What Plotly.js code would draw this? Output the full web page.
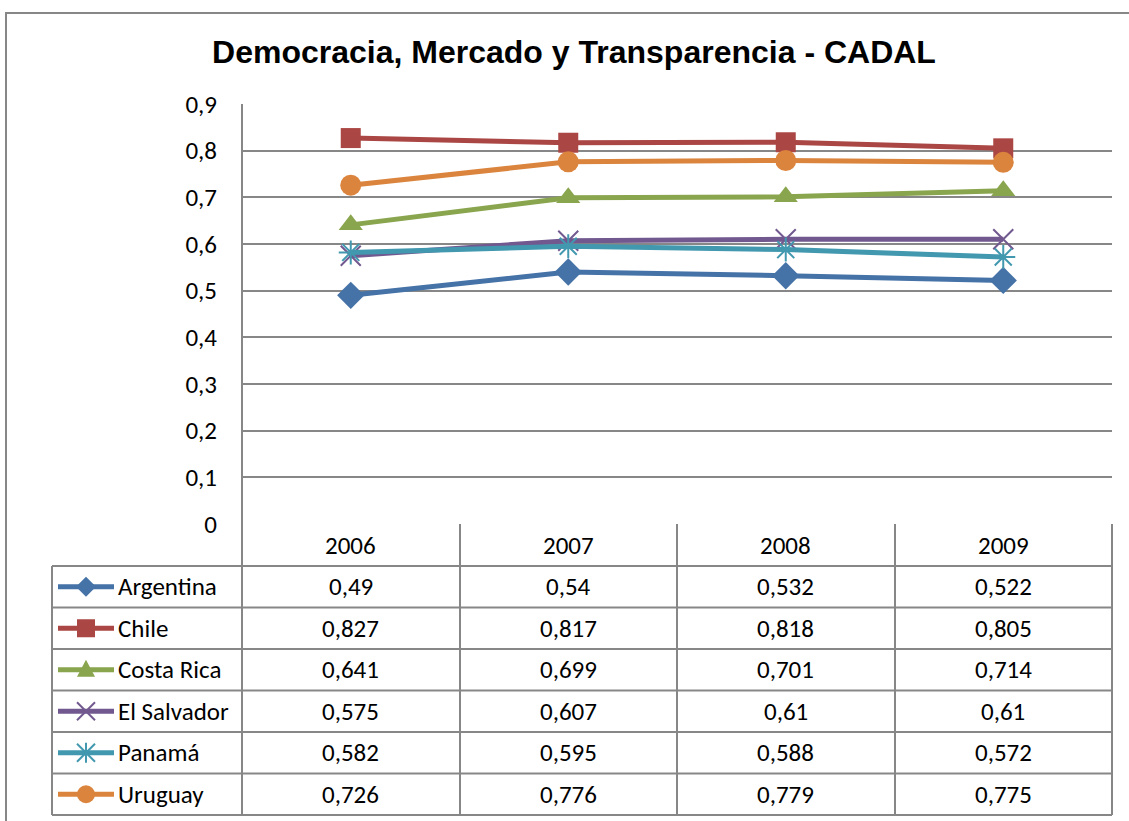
<!DOCTYPE html>
<html>
<head>
<meta charset="utf-8">
<script src="https://cdn.plot.ly/plotly-3.0.1.min.js"></script>
<style>
html,body{margin:0;padding:0;background:#fff;}
#chart{width:1129px;height:821px;}
</style>
</head>
<body>
<div id="chart"></div>
<script>
// ---- data ----
var years = [2006, 2007, 2008, 2009];
var countries = ['Argentina', 'Chile', 'Costa Rica', 'El Salvador', 'Panamá', 'Uruguay'];
var argentina = [0.49, 0.54, 0.532, 0.522];
var chile = [0.827, 0.817, 0.818, 0.805];
var costaRica = [0.641, 0.699, 0.701, 0.714];
var elSalvador = [0.575, 0.607, 0.61, 0.61];
var panama = [0.582, 0.595, 0.588, 0.572];
var uruguay = [0.726, 0.776, 0.779, 0.775];
var yTickVals = [0, 0.1, 0.2, 0.3, 0.4, 0.5, 0.6, 0.7, 0.8, 0.9];
var yTickText = ['0', '0,1', '0,2', '0,3', '0,4', '0,5', '0,6', '0,7', '0,8', '0,9'];
var chartTitle = 'Democracia, Mercado y Transparencia - CADAL';

// ---- styles ----
var seriesValues = [argentina, chile, costaRica, elSalvador, panama, uruguay];
var colors = ['#4572A7', '#AA4643', '#89A54E', '#71588F', '#4198AF', '#DB843D'];
var symbols = ['diamond', 'square', 'triangle-up', 'x-thin-open', 'asterisk-open', 'circle'];
var sizes = [21, 20, 21, 20, 20, 21];

var W = 1129, H = 821;
function px(x) { return x / W; }
function py(y) { return 1 - y / H; }

var plotL = 242, plotR = 1112, plotT = 104, plotB = 524;
var xMin = years[0] - 0.5, xMax = years[years.length - 1] + 0.5;
var yMin = 0, yMax = 0.9;

var tableL = 52;
var colX = [242, 460, 677, 895, 1112];
var headerB = 566;
var rowH = (815 - 566) / 6;
var gridColor = '#878787';
var textFont = 'Carlito, Lato, sans-serif';
var fs = 25;

var traces = [];
var shapes = [];
var annotations = [];

// build an SVG path (paper coords) from pixel points
function pathFrom(pts, closed) {
  return pts.map(function (p, k) {
    return (k === 0 ? 'M' : 'L') + px(p[0]).toFixed(5) + ',' + py(p[1]).toFixed(5);
  }).join(' ') + (closed ? ' Z' : '');
}
function legendIcon(sym, cx, cy, col) {
  var out = [];
  out.push({ type: 'line', xref: 'paper', yref: 'paper', x0: px(58), x1: px(114), y0: py(cy), y1: py(cy),
    line: { color: col, width: 5 } });
  var fill = { type: 'path', xref: 'paper', yref: 'paper', fillcolor: col, line: { color: col, width: 0 } };
  if (sym === 'diamond') {
    fill.path = pathFrom([[cx, cy - 10], [cx + 10, cy], [cx, cy + 10], [cx - 10, cy]], true); out.push(fill);
  } else if (sym === 'square') {
    fill.path = pathFrom([[cx - 9, cy - 9], [cx + 9, cy - 9], [cx + 9, cy + 9], [cx - 9, cy + 9]], true); out.push(fill);
  } else if (sym === 'triangle-up') {
    fill.path = pathFrom([[cx, cy - 10], [cx + 9, cy + 7], [cx - 9, cy + 7]], true); out.push(fill);
  } else if (sym === 'circle') {
    out.push({ type: 'circle', xref: 'paper', yref: 'paper', x0: px(cx - 9), x1: px(cx + 9), y0: py(cy - 9), y1: py(cy + 9),
      fillcolor: col, line: { color: col, width: 0 } });
  } else {
    var segs = [[[cx - 9, cy - 9], [cx + 9, cy + 9]], [[cx - 9, cy + 9], [cx + 9, cy - 9]]];
    if (sym === 'asterisk-open') segs.push([[cx, cy - 10], [cx, cy + 10]]);
    segs.forEach(function (s) {
      out.push({ type: 'path', xref: 'paper', yref: 'paper', path: pathFrom(s, false), line: { color: col, width: 2 } });
    });
  }
  return out;
}

seriesValues.forEach(function (vals, i) {
  var isLine = symbols[i].indexOf('open') >= 0;
  traces.push({
    type: 'scatter', mode: 'lines+markers',
    x: years, y: vals, name: countries[i],
    line: { color: colors[i], width: 5 },
    marker: {
      symbol: symbols[i], size: sizes[i], color: colors[i],
      line: { color: colors[i], width: isLine ? 2 : 0 }
    },
    showlegend: false
  });
  var cy = headerB + rowH * (i + 0.5);
  shapes = shapes.concat(legendIcon(symbols[i], 86, cy, colors[i]));
  annotations.push({ xref: 'paper', yref: 'paper', x: px(116), y: py(cy), xanchor: 'left', yanchor: 'middle',
    text: countries[i], showarrow: false, font: { family: textFont, size: fs, color: '#000' } });
  vals.forEach(function (v, j) {
    annotations.push({ xref: 'x', yref: 'paper', x: years[j], y: py(cy), xanchor: 'center', yanchor: 'middle',
      text: String(v).replace('.', ','), showarrow: false, font: { family: textFont, size: fs, color: '#000' } });
  });
});

years.forEach(function (yr) {
  annotations.push({ xref: 'x', yref: 'paper', x: yr, y: py((plotB + headerB) / 2), xanchor: 'center', yanchor: 'middle',
    text: String(yr), showarrow: false, font: { family: textFont, size: fs, color: '#000' } });
});

// table lines
for (var r = 0; r <= 6; r++) {
  var yy = headerB + rowH * r;
  shapes.push({ type: 'line', xref: 'paper', yref: 'paper', x0: px(tableL), x1: px(plotR), y0: py(yy), y1: py(yy),
    line: { color: gridColor, width: 2 }, layer: 'below' });
}
colX.forEach(function (cx, k) {
  shapes.push({ type: 'line', xref: 'paper', yref: 'paper', x0: px(cx), x1: px(cx),
    y0: py(k === 0 ? plotT : plotB), y1: py(815), line: { color: gridColor, width: 2 }, layer: 'below' });
});
shapes.push({ type: 'line', xref: 'paper', yref: 'paper', x0: px(tableL), x1: px(tableL), y0: py(headerB), y1: py(815),
  line: { color: gridColor, width: 2 }, layer: 'below' });
shapes.push({ type: 'rect', xref: 'paper', yref: 'paper', x0: px(6), x1: px(1140), y0: py(13), y1: py(830),
  line: { color: gridColor, width: 2 }, fillcolor: 'rgba(0,0,0,0)', layer: 'below' });

var layout = {
  width: W, height: H,
  margin: { l: 0, r: 0, t: 0, b: 0 },
  paper_bgcolor: '#fff', plot_bgcolor: 'rgba(0,0,0,0)',
  title: { text: '<b>' + chartTitle + '</b>', x: px(574), y: py(52), xanchor: 'center', yanchor: 'middle',
    xref: 'paper', yref: 'paper',
    font: { family: 'Liberation Sans, Arial, sans-serif', size: 32, color: '#000' } },
  xaxis: {
    domain: [px(plotL), px(plotR)], range: [xMin, xMax],
    showticklabels: false, ticks: '', showgrid: false, zeroline: false, showline: false, fixedrange: true
  },
  yaxis: {
    domain: [py(plotB), py(plotT)], range: [yMin, yMax], tickvals: yTickVals, ticktext: yTickText,
    showgrid: true, gridcolor: gridColor, gridwidth: 2, zeroline: false, showline: false,
    ticks: '', ticklabelstandoff: 24,
    tickfont: { family: textFont, size: fs, color: '#000' }, fixedrange: true
  },
  shapes: shapes,
  annotations: annotations,
  showlegend: false
};

Plotly.newPlot('chart', traces, layout, { displayModeBar: false, staticPlot: true });
</script>
</body>
</html>
